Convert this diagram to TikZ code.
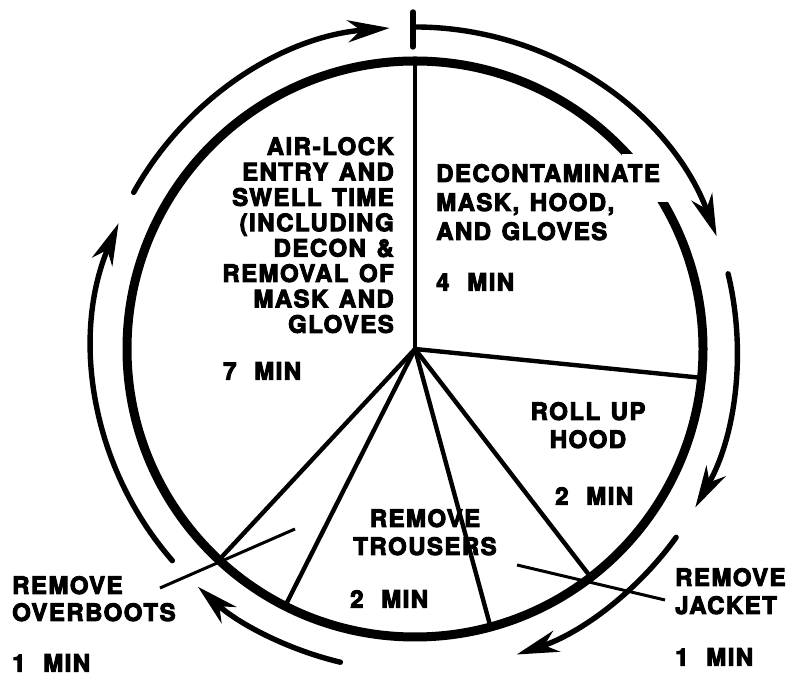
\documentclass[tikz,border=0pt]{standalone}
\usepackage{fontspec}
\setmainfont{texgyreheros}[Extension=.otf, UprightFont=*-regular, BoldFont=*-bold,
  LetterSpace=6, WordSpace=1.3, BoldFeatures={FakeBold=4}]
\usetikzlibrary{arrows.meta,calc}
\begin{document}
\begin{tikzpicture}[x=1pt,y=1pt,
  ring/.style={line width=9pt},
  spoke/.style={line width=4.4pt},
  leader/.style={line width=3pt},
  flow/.style={line width=5.4pt, line cap=round, -{Stealth[length=42pt,width=22pt,inset=13pt]}},
  tick/.style={line width=5.4pt, line cap=round},
  lbl/.style={font=\bfseries\fontsize{24}{25.4}\selectfont, inner sep=0pt}]
\useasboundingbox (0,0) rectangle (787,676);
\coordinate (C) at (415,327);
% ring
\draw[ring] (C) circle[radius=288];
% spokes
\foreach \a/\n in {90/top,-5.75/r1,-52.4/r2,-74.8/r3,-116.8/r4,-132.9/r5}{
  \coordinate (\n) at ($(C)+(\a:288)$);
  \draw[spoke] (C) -- (\n);
}
% gap in the ring behind the first label line
\fill[white] (622,522) rectangle (672,474);
% outer arrows
\coordinate (tk1) at (413,664);
\coordinate (tk2) at (413,629);
\draw[tick] (tk1) -- (tk2);
\draw[flow] ($(C)+(90:322)$) arc[start angle=90, end angle=20.5, radius=322];
\draw[flow] ($(C)+(13.5:322)$) arc[start angle=13.5, end angle=-29.5, radius=322];
\draw[flow] ($(C)+(-35.8:322)$) arc[start angle=-35.8, end angle=-71.6, radius=322];
\draw[flow] ($(C)+(-103.4:322)$) arc[start angle=-103.4, end angle=-132.4, radius=322];
\draw[flow] ($(C)+(-138.9:322)$) arc[start angle=-138.9, end angle=-203, radius=322];
\draw[flow] ($(C)+(150.9:322)$) arc[start angle=150.9, end angle=94.5, radius=322];
% labels
\node[lbl, align=right, anchor=north east] (air) at (394,539)
  {AIR-LOCK\\ENTRY AND\\SWELL TIME\\(INCLUDING\\DECON \&\\REMOVAL OF\\MASK AND\\GLOVES};
\node[lbl, anchor=north west] (m7) at (223,314) {7\hspace{0.3em} MIN};
\node[lbl, align=left, anchor=north west,
  font=\bfseries\fontsize{24}{29}\selectfont] (dec) at (436,512)
  {DECONTAMINATE\\MASK, HOOD,\\AND GLOVES};
\node[lbl, anchor=north west] (m4) at (436,403) {4\hspace{0.3em} MIN};
\node[lbl, align=center, anchor=north, font=\bfseries\fontsize{24}{28}\selectfont] (hood) at (588,274) {ROLL UP\\HOOD};
\node[lbl, anchor=north west] (m2a) at (555,189) {2\hspace{0.3em} MIN};
\node[lbl, align=center, anchor=north, font=\bfseries\fontsize{24}{28}\selectfont] (trou) at (425,167) {REMOVE\\TROUSERS};
\node[lbl, anchor=north west] (m2b) at (350,86) {2\hspace{0.3em} MIN};
\node[lbl, align=left, anchor=north west, font=\bfseries\fontsize{24}{28}\selectfont] (jack) at (675,108) {REMOVE\\JACKET};
\node[lbl, anchor=north west] (m1a) at (675,28) {1\hspace{0.3em} MIN};
\node[lbl, align=left, anchor=north west, font=\bfseries\fontsize{24}{27}\selectfont] (boot) at (12,100) {REMOVE\\OVERBOOTS};
\node[lbl, anchor=north west] (m1b) at (12,22) {1\hspace{0.3em} MIN};
% leaders
\coordinate (lj1) at (517,111);
\coordinate (lj2) at (665,76);
\draw[leader] (lj1) -- (lj2);
\coordinate (lb1) at (160,88);
\coordinate (lb2) at (295,147);
\draw[leader] (lb1) -- (lb2);
\end{tikzpicture}
\end{document}
